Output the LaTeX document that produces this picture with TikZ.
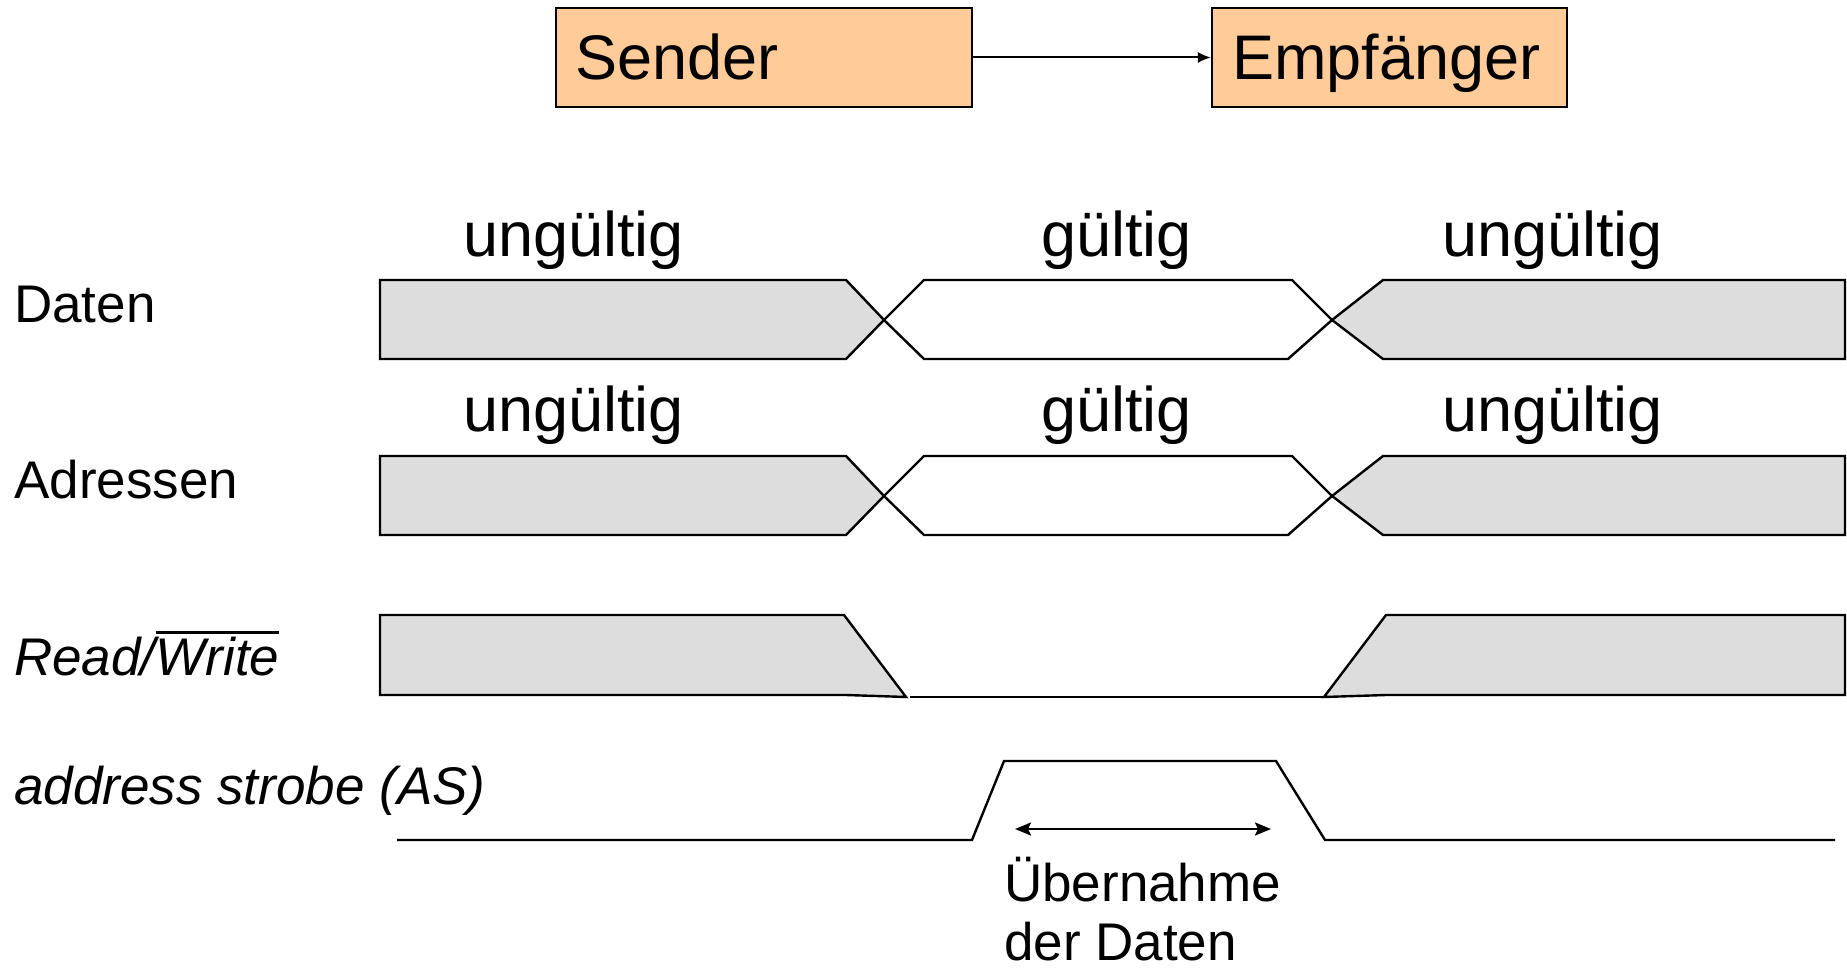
\documentclass[tikz,border=0pt]{standalone}
\usepackage{fontspec}
\setmainfont{Liberation Sans}
\usetikzlibrary{arrows.meta}
\definecolor{boxorange}{HTML}{FFCC99}
\definecolor{busgray}{HTML}{DDDDDD}
\newcommand{\myovl}[1]{\vbox{\hrule height 2.4pt\kern 3pt\hbox{#1}}}
\begin{document}
\begin{tikzpicture}[x=1pt,y=-1pt,
  sig/.style={draw=black, line width=2.4pt, line join=miter},
  bus/.style={sig, fill=busgray},
  lbl/.style={anchor=base west, inner sep=0pt, font=\fontsize{53}{64}\selectfont},
  big/.style={anchor=base west, inner sep=0pt, font=\fontsize{63}{72}\selectfont},
  unitbox/.style={draw=black, line width=2.2pt, fill=boxorange, align=left,
    font=\fontsize{63}{72}\selectfont, minimum height=99pt, inner ysep=0pt,
    text height=54pt, text depth=10pt}
]
\useasboundingbox (0,0) rectangle (1847,971);

% top boxes
\node[unitbox, inner xsep=19pt, text width=378pt] (sender) at (764,57.5) {Sender};
\node[unitbox, inner xsep=20pt, text width=315pt] (empf) at (1389.5,57.5) {Empfänger};
\draw[line width=2pt, -{Latex[length=13pt,width=11pt]}] (sender) -- (empf);

% signal names
\node[lbl] (lDaten) at (14,322) {Daten};
\node[lbl] (lAdr) at (14,498) {Adressen};
\node[lbl] (lRW) at (14,675) {\itshape Read/\myovl{Write}};
\node[lbl] (lAS) at (14,804) {\itshape address strobe (AS)};

% state labels
\node[big] (d1) at (463,256) {ungültig};
\node[big] (d2) at (1041,256) {gültig};
\node[big] (d3) at (1442,256) {ungültig};
\node[big] (a1) at (463,431) {ungültig};
\node[big] (a2) at (1041,431) {gültig};
\node[big] (a3) at (1442,431) {ungültig};

% Daten and Adressen buses
\foreach \dy in {0,176}{
  \begin{scope}[yshift=-\dy pt]
    \path[bus] (380,280) -- (846,280) -- (884,320) -- (846,359) -- (380,359) -- cycle;
    \path[sig] (884,320) -- (924,280) -- (1292,280) -- (1332,320) -- (1288,359) -- (924,359) -- cycle;
    \path[bus] (1845,280) -- (1383,280) -- (1332,320) -- (1383,359) -- (1845,359) -- cycle;
  \end{scope}
}

% Read/Write
\path[bus] (380,615) -- (844,615) -- (906,697) -- (846,695) -- (380,695) -- cycle;
\path[sig] (910,697) -- (1324,697);
\path[bus] (1324,697) -- (1386,615) -- (1845,615) -- (1845,695) -- (1386,695) -- cycle;

% address strobe
\path[sig] (397,840) -- (972,840) -- (1004,761) -- (1276,761) -- (1325,840) -- (1835,840);

% Uebernahme arrow
\coordinate (ueL) at (1015,829);
\coordinate (ueR) at (1271,829);
\draw[line width=2.4pt, {Stealth[length=16pt,width=13pt,inset=3pt]}-{Stealth[length=16pt,width=13pt,inset=3pt]}] (ueL) -- (ueR);
\node[lbl] (ue1) at (1004,901) {Übernahme};
\node[lbl] (ue2) at (1004,960) {der Daten};
\end{tikzpicture}
\end{document}
